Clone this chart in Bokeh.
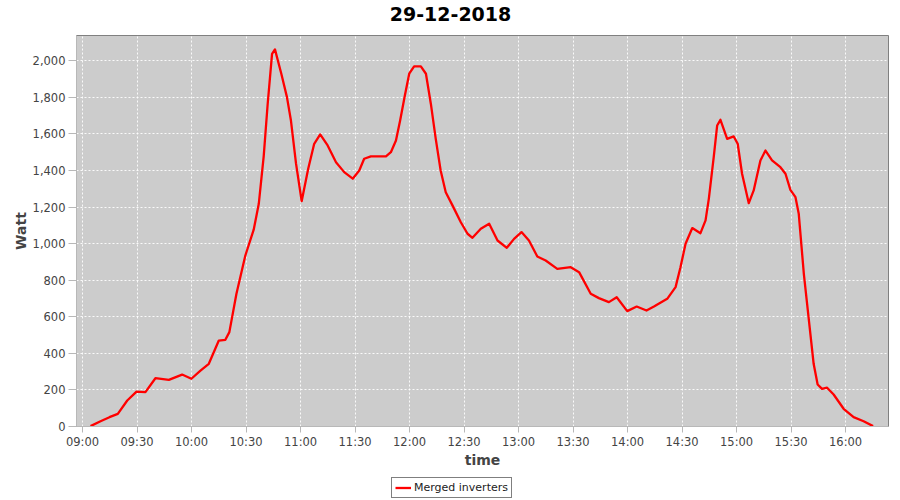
import pandas as pd
from bokeh.plotting import figure
from bokeh.layouts import column
from bokeh.models import (Legend, LegendItem, FixedTicker, DatetimeTickFormatter,
                          NumeralTickFormatter, Range1d, Label)
from bokeh.embed import file_html
from bokeh.resources import INLINE

DAY = "2018-12-29"
title_text = "29-12-2018"
series_name = "Merged inverters"

times = [
    "09:04:24", "09:09:54", "09:14:48", "09:19:24", "09:24:36", "09:29:42", "09:34:36",
    "09:40:06", "09:47:30", "09:54:48", "09:59:54", "10:04:54", "10:09:30", "10:15:00",
    "10:18:36", "10:20:48", "10:24:42", "10:29:36", "10:34:12", "10:37:00", "10:39:42",
    "10:41:54", "10:44:18", "10:45:54", "10:49:24", "10:52:30", "10:54:42", "10:57:30",
    "11:00:36", "11:04:12", "11:07:30", "11:10:48", "11:14:54", "11:19:30", "11:24:00",
    "11:28:42", "11:32:18", "11:35:00", "11:38:42", "11:47:00", "11:49:42", "11:52:30",
    "11:54:48", "11:57:24", "11:59:48", "12:02:30", "12:06:12", "12:09:00", "12:11:42",
    "12:14:24", "12:17:06", "12:19:54", "12:23:36", "12:28:12", "12:31:54", "12:34:36",
    "12:39:12", "12:43:48", "12:48:24", "12:53:30", "12:57:30", "13:01:36", "13:05:42",
    "13:10:18", "13:14:54", "13:21:18", "13:28:42", "13:33:18", "13:39:42", "13:44:12",
    "13:49:42", "13:54:00", "13:59:48", "14:05:00", "14:10:24", "14:14:30", "14:21:48",
    "14:26:24", "14:29:06", "14:31:54", "14:35:36", "14:40:06", "14:42:54", "14:44:42",
    "14:47:24", "14:49:18", "14:51:06", "14:54:48", "14:58:24", "15:00:36", "15:03:00",
    "15:06:42", "15:09:24", "15:13:06", "15:15:54", "15:19:30", "15:24:06", "15:26:54",
    "15:29:36", "15:32:24", "15:34:12", "15:37:00", "15:39:42", "15:42:24", "15:44:36",
    "15:47:00", "15:49:48", "15:53:24", "15:58:54", "16:04:24", "16:09:54", "16:15:06",
]
watts = [
    2, 29, 51, 69, 142, 191, 188,
    264, 255, 284, 261, 306, 343, 470,
    474, 516, 726, 935, 1076, 1218, 1477,
    1765, 2038, 2062, 1929, 1801, 1673, 1437,
    1232, 1409, 1546, 1597, 1537, 1445, 1391,
    1355, 1400, 1464, 1477, 1477, 1500, 1564,
    1673, 1810, 1929, 1969, 1969, 1929, 1765,
    1573, 1400, 1281, 1209, 1117, 1054, 1032,
    1081, 1109, 1017, 977, 1026, 1063, 1017,
    930, 908, 862, 871, 844, 726, 702,
    680, 707, 631, 656, 634, 656, 698,
    762, 871, 999, 1085, 1057, 1127, 1245,
    1473, 1646, 1677, 1573, 1586, 1546, 1382,
    1221, 1291, 1455, 1509, 1455, 1418, 1382,
    1294, 1254, 1163, 835, 589, 343, 230,
    206, 212, 175, 97, 51, 29, 2,
]
x_tick_labels = ["09:00", "09:30", "10:00", "10:30", "11:00", "11:30", "12:00", "12:30",
                 "13:00", "13:30", "14:00", "14:30", "15:00", "15:30", "16:00"]
y_ticks = [0, 200, 400, 600, 800, 1000, 1200, 1400, 1600, 1800, 2000]
x_start, x_end = "08:56:40", "16:23:36"
y_start, y_end = 0, 2138

W = 900
TITLE_H, MAIN_H, LEG_H = 34, 436, 30
FRAME_L, FRAME_R = 76, 888   # plot-area edges in page pixels (strips align to them)


def to_dt(t):
    return pd.Timestamp(f"{DAY} {t}")


def to_ms(t):
    return (to_dt(t) - pd.Timestamp("1970-01-01")) // pd.Timedelta(milliseconds=1)


xs = [to_dt(t) for t in times]

# ---- title strip (own figure; ranges in page pixels, y downwards) ----
pt = figure(width=W, height=TITLE_H, output_backend="svg", toolbar_location=None,
            x_axis_location=None, y_axis_location=None, min_border=0,
            x_range=Range1d(FRAME_L, FRAME_R), y_range=Range1d(TITLE_H, 0),
            background_fill_color="white", border_fill_color="white")
pt.grid.visible = False
pt.outline_line_color = None
pt.add_layout(Label(x=W / 2, y=13, text=title_text, text_align="center",
                    text_baseline="alphabetic", text_font="DejaVu Sans",
                    text_font_style="bold", text_font_size="19px", text_color="black"))

# ---- main chart ----
p = figure(width=W, height=MAIN_H, output_backend="svg", toolbar_location=None,
           x_axis_type="datetime",
           x_range=Range1d(to_dt(x_start), to_dt(x_end)),
           y_range=Range1d(y_start, y_end),
           min_border_left=FRAME_L, min_border_right=W - FRAME_R, min_border_top=1,
           min_border_bottom=44,
           background_fill_color="#CCCCCC", border_fill_color="white")

p.outline_line_color = "#808080"
p.outline_line_width = 1

for g in (p.xgrid[0], p.ygrid[0]):
    g.grid_line_color = "white"
    g.grid_line_dash = "2 2"
    g.grid_line_width = 1
    g.grid_line_alpha = 0.9

p.xaxis.ticker = FixedTicker(ticks=[to_ms(t) for t in x_tick_labels])
p.xaxis.formatter = DatetimeTickFormatter(minutes="%H:%M", hours="%H:%M", hourmin="%H:%M")
p.yaxis.ticker = FixedTicker(ticks=y_ticks)
p.yaxis.formatter = NumeralTickFormatter(format="0,0")

for ax in (p.xaxis[0], p.yaxis[0]):
    ax.axis_line_color = "#B8B8B8"
    ax.major_tick_line_color = "#B8B8B8"
    ax.minor_tick_line_color = None
    ax.major_tick_in = 0
    ax.major_label_text_font = "DejaVu Sans"
    ax.major_label_text_font_size = "11.5px"
    ax.major_label_text_color = "#444444"
    ax.axis_label_text_font = "DejaVu Sans"
    ax.axis_label_text_font_style = "bold"
    ax.axis_label_text_color = "#444444"

p.xaxis.axis_label = "time"
p.xaxis.axis_label_text_font_size = "14px"
p.xaxis.major_tick_out = 6
p.xaxis.major_label_standoff = 2
p.xaxis.axis_label_standoff = 0

p.yaxis.axis_label = "Watt"
p.yaxis.axis_label_text_font_size = "14px"
p.yaxis.major_tick_out = 8
p.yaxis.major_label_standoff = 3
p.yaxis.axis_label_standoff = 1

p.line(xs, watts, line_color="#FF0000", line_width=2.3, line_join="round")

# ---- legend strip (own figure so the legend box is not clipped) ----
pl = figure(width=W, height=LEG_H, output_backend="svg", toolbar_location=None,
            x_axis_location=None, y_axis_location=None, min_border=0,
            x_range=Range1d(0, 1), y_range=Range1d(0, 1),
            background_fill_color="white", border_fill_color="white")
pl.grid.visible = False
pl.outline_line_color = None
# same series, lies outside this strip's ranges: only its legend sample shows
rl = pl.line(xs, watts, line_color="#FF0000", line_width=2.3)

legend = Legend(items=[LegendItem(label=series_name, renderers=[rl])],
                location=(391 - FRAME_L, 2), orientation="horizontal",
                border_line_color="black", border_line_width=1,
                background_fill_color="white", background_fill_alpha=1,
                padding=3, spacing=0, margin=0, label_standoff=3,
                glyph_width=16, glyph_height=13, label_height=13,
                label_text_font="DejaVu Sans", label_text_font_size="11px",
                label_text_color="#222222")
pl.add_layout(legend, "center")

with open("out.html", "w") as f:
    f.write(file_html(column(pt, p, pl, spacing=0), INLINE))
